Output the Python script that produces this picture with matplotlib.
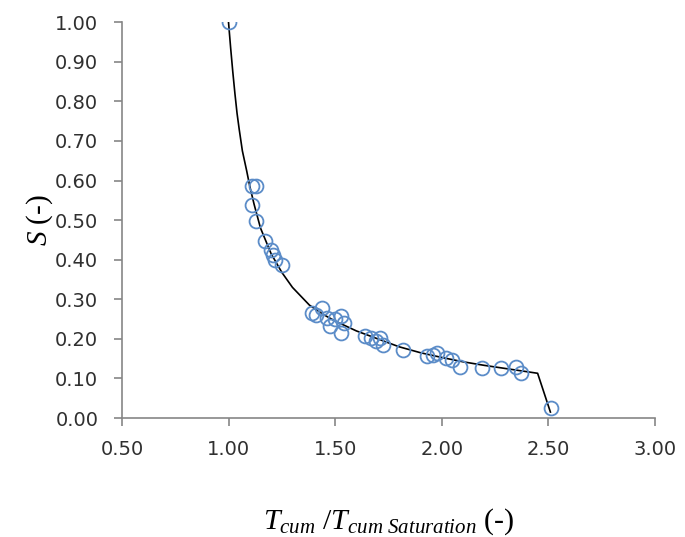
import matplotlib
matplotlib.use("Agg")
import matplotlib.pyplot as plt

plt.rcParams['mathtext.fontset'] = 'custom'
plt.rcParams['mathtext.rm'] = 'Liberation Serif'
plt.rcParams['mathtext.it'] = 'Liberation Serif:italic'

# Observed points (T_cum / T_cum Saturation, S)
obs_x = [1.00, 1.11, 1.13, 1.11, 1.13, 1.17, 1.20, 1.21, 1.22, 1.25,
         1.39, 1.41, 1.44, 1.46, 1.475, 1.50, 1.53, 1.54, 1.53,
         1.64, 1.67, 1.69, 1.71, 1.725, 1.82, 1.93, 1.96, 1.98,
         2.02, 2.05, 2.085, 2.19, 2.28, 2.35, 2.37, 2.515]
obs_y = [1.00, 0.585, 0.585, 0.538, 0.497, 0.447, 0.424, 0.412, 0.400, 0.386,
         0.266, 0.261, 0.278, 0.253, 0.232, 0.249, 0.257, 0.240, 0.215,
         0.206, 0.202, 0.194, 0.202, 0.185, 0.173, 0.156, 0.160, 0.164,
         0.151, 0.147, 0.130, 0.126, 0.126, 0.130, 0.113, 0.025]

# Fitted curve
fit_x = [1.00, 1.01, 1.02, 1.03, 1.04, 1.05, 1.065, 1.085, 1.10, 1.12, 1.15,
         1.20, 1.25, 1.30, 1.38, 1.45, 1.50, 1.60, 1.70, 1.80, 1.90, 2.00,
         2.10, 2.20, 2.30, 2.45, 2.51]
fit_y = [1.00, 0.935, 0.875, 0.82, 0.77, 0.73, 0.675, 0.625, 0.585, 0.54, 0.48,
         0.415, 0.368, 0.33, 0.285, 0.26, 0.245, 0.22, 0.20, 0.18, 0.165, 0.153,
         0.142, 0.133, 0.125, 0.113, 0.015]

x_ticks = [0.5, 1.0, 1.5, 2.0, 2.5, 3.0]
y_ticks = [0.0, 0.1, 0.2, 0.3, 0.4, 0.5, 0.6, 0.7, 0.8, 0.9, 1.0]

fig = plt.figure(figsize=(6.85, 5.37), dpi=100)
ax = fig.add_axes([0.178, 0.2216, 0.778, 0.737])

ax.plot(fit_x, fit_y, color='black', lw=1.2, zorder=2)
ax.plot(obs_x, obs_y, linestyle='none', marker='o', markersize=10,
        markerfacecolor='none', markeredgecolor='#5b8cc8', markeredgewidth=1.3, zorder=3)

ax.set_xlim(0.5, 3.0)
ax.set_ylim(0.0, 1.0)
ax.set_xticks(x_ticks)
ax.set_yticks(y_ticks)
ax.set_xticklabels([f"{v:.2f}" for v in x_ticks])
ax.set_yticklabels([f"{v:.2f}" for v in y_ticks])

for s in ['top', 'right']:
    ax.spines[s].set_visible(False)
for s in ['left', 'bottom']:
    ax.spines[s].set_color('#868686')
    ax.spines[s].set_linewidth(1.2)
ax.tick_params(axis='both', direction='out', length=6, width=1.2, color='#868686',
               labelsize=14, labelcolor='#303030')
ax.tick_params(axis='x', pad=10)
ax.tick_params(axis='y', pad=11)

ax.set_xlabel(r'$T_{cum}$ /$T_{cum\ Saturation}$ (-)', fontsize=21.5,
              family='Liberation Serif', labelpad=34)
ax.set_ylabel(r'$S$ (-)', fontsize=21, family='Liberation Serif', labelpad=0)

fig.savefig('out.png', dpi=100)
